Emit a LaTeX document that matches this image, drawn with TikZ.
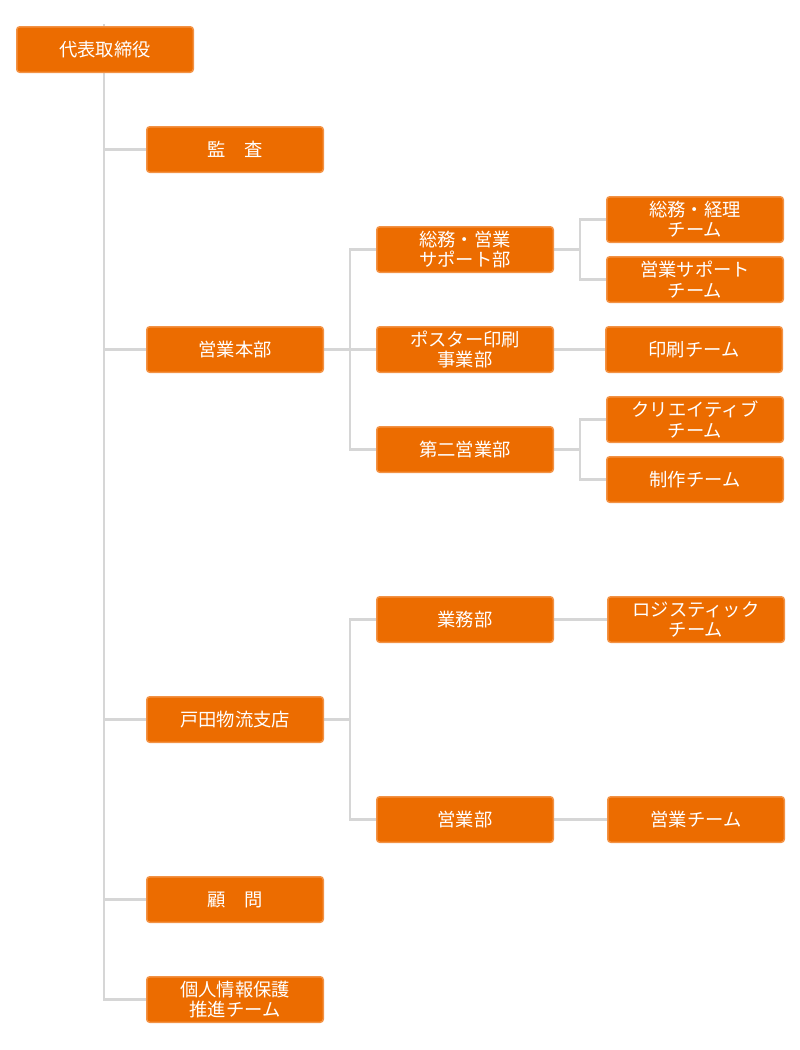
\documentclass[tikz,border=0pt]{standalone}
\usepackage{fontspec}
\setmainfont{Noto Sans CJK JP}
\usetikzlibrary{backgrounds}
\definecolor{boxfill}{HTML}{EC6C00}
\definecolor{boxline}{HTML}{F39244}
\definecolor{linkgray}{HTML}{D6D6D6}
\begin{document}
\begin{tikzpicture}[x=1pt,y=-1pt,
  box/.style={draw=boxline,fill=boxfill,line width=1.5pt,rounded corners=3pt,
    minimum width=176.5pt,minimum height=45.5pt,inner sep=0pt,text=white,
    align=center,font=\fontsize{18.3}{20.3}\selectfont},
  link/.style={draw=linkgray,line width=2.6pt}]
\useasboundingbox (0,0) rectangle (800,1050);

\node[box] (ceo)     at (105,49.5)  {代表取締役};
\node[box] (audit)   at (235,149.5) {監　査};
\node[box] (hq)      at (235,349.5) {営業本部};
\node[box] (toda)    at (235,719.5) {戸田物流支店};
\node[box] (advisor) at (235,899.5) {顧　問};
\node[box] (privacy) at (235,999.5) {個人情報保護\\推進チーム};

\node[box] (soumu)   at (465,249.5) {総務・営業\\サポート部};
\node[box] (poster)  at (465,349.5) {ポスター印刷\\事業部};
\node[box] (daini)   at (465,449.5) {第二営業部};
\node[box] (gyomu)   at (465,619.5) {業務部};
\node[box] (eigyo)   at (465,819.5) {営業部};

\node[box] (keiri)    at (695,219.5) {総務・経理\\チーム};
\node[box] (support)  at (695,279.5) {営業サポート\\チーム};
\node[box] (insatsu)  at (694,349.5) {印刷チーム};
\node[box] (creative) at (695,419.5) {クリエイティブ\\チーム};
\node[box] (seisaku)  at (695,479.5) {制作チーム};
\node[box] (logi)     at (696,619.5) {ロジスティック\\チーム};
\node[box] (eteam)    at (696,819.5) {営業チーム};

\coordinate (top) at (104,24);
\coordinate (bus1) at (350,349.5);
\coordinate (bus2) at (350,719.5);
\coordinate (bus3) at (580,249.5);
\coordinate (bus4) at (580,449.5);

\begin{scope}[on background layer]
\path[link] (top) |- (privacy.west);
\path[link] (audit.west) -- (audit.west -| top);
\path[link] (hq.west) -- (hq.west -| top);
\path[link] (toda.west) -- (toda.west -| top);
\path[link] (advisor.west) -- (advisor.west -| top);

\path[link] (hq.east) -- (poster.west);
\path[link] (soumu.west) -| (bus1) |- (daini.west);
\path[link] (toda.east) -- (bus2);
\path[link] (gyomu.west) -| (bus2) |- (eigyo.west);

\path[link] (soumu.east) -- (bus3);
\path[link] (keiri.west) -| (bus3) |- (support.west);
\path[link] (poster.east) -- (insatsu.west);
\path[link] (daini.east) -- (bus4);
\path[link] (creative.west) -| (bus4) |- (seisaku.west);
\path[link] (gyomu.east) -- (logi.west);
\path[link] (eigyo.east) -- (eteam.west);
\end{scope}
\end{tikzpicture}
\end{document}
